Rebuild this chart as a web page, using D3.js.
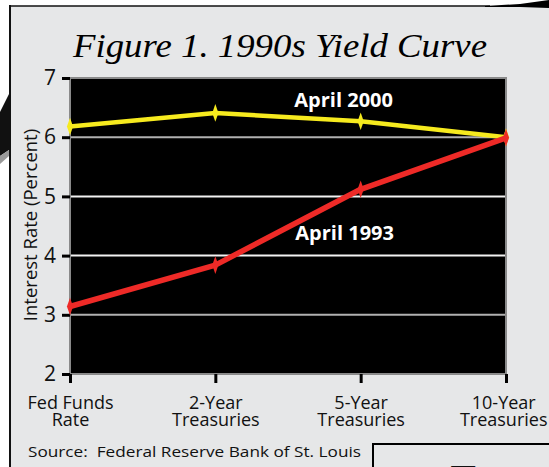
<!DOCTYPE html>
<html>
<head>
<meta charset="utf-8">
<script src="https://d3js.org/d3.v7.min.js"></script>
<style>
  body { margin: 0; background: #fff; }
  svg { display: block; }
</style>
</head>
<body>
<script>
// Yield curve data
const categories = ["Fed Funds Rate", "2-Year Treasuries", "5-Year Treasuries", "10-Year Treasuries"];
const april2000 = [6.18, 6.41, 6.27, 6.00];
const april1993 = [3.14, 3.84, 5.12, 5.99];
const yTicks = [2, 3, 4, 5, 6, 7];
const gridValues = [3, 4, 5, 6];
const seriesNames = ["April 2000", "April 1993"];

const W = 549, H = 467;
const margin = { top: 78, left: 70, right: 43, bottom: 93 };
const width = W - margin.left - margin.right;
const height = H - margin.top - margin.bottom;

const svg = d3.select("body").append("svg")
  .attr("width", W)
  .attr("height", H)
  .style("font-family", "'Open Sans', sans-serif");

// page background and frame
svg.append("rect")
  .attr("x", 10).attr("y", 6)
  .attr("width", W).attr("height", H)
  .attr("fill", "#e6e7e8");

svg.append("line")
  .attr("x1", 10).attr("y1", 5).attr("x2", 10).attr("y2", H)
  .attr("stroke", "#111").attr("stroke-width", 2);
svg.append("line")
  .attr("x1", 10).attr("y1", 6).attr("x2", 490).attr("y2", 6)
  .attr("stroke", "#111").attr("stroke-width", 1.5);

// page-curl shadows
svg.append("polygon")
  .attr("points", "485,6 520,4 549,0 549,8 520,7 485,7")
  .attr("fill", "#000");
svg.append("polygon")
  .attr("points", "0,112 9,94 9,150 0,156")
  .attr("fill", "#111");
svg.append("polygon")
  .attr("points", "0,156 9,150 9,156 0,164")
  .attr("fill", "#999");

// bottom-right box with partial letter
svg.append("rect")
  .attr("x", 373).attr("y", 444)
  .attr("width", 200).attr("height", 60)
  .attr("fill", "#e6e7e8")
  .attr("stroke", "#000")
  .attr("stroke-width", 2);
svg.append("text")
  .attr("x", 447).attr("y", 497)
  .attr("font-family", "'Liberation Serif', serif")
  .attr("font-style", "italic")
  .attr("font-size", 46)
  .attr("fill", "#111")
  .text("T");

// title
svg.append("text")
  .attr("x", 280).attr("y", 57)
  .attr("text-anchor", "middle")
  .attr("font-family", "'Liberation Serif', serif")
  .attr("font-style", "italic")
  .attr("font-size", 34)
  .attr("textLength", 414)
  .attr("lengthAdjust", "spacingAndGlyphs")
  .attr("fill", "#000")
  .text("Figure 1. 1990s Yield Curve");

const g = svg.append("g")
  .attr("transform", `translate(${margin.left},${margin.top})`);

// scales
const x = d3.scalePoint()
  .domain(categories)
  .range([0, width])
  .padding(0);

const y = d3.scaleLinear()
  .domain([2, 7])
  .range([height, 0]);

// plot area
g.append("rect")
  .attr("width", width)
  .attr("height", height)
  .attr("fill", "#000")
  .attr("stroke", "#8a8a8a")
  .attr("stroke-width", 2);

// gridlines
g.selectAll(".grid")
  .data(gridValues)
  .join("line")
  .attr("class", "grid")
  .attr("x1", 1).attr("x2", width - 1)
  .attr("y1", d => y(d)).attr("y2", d => y(d))
  .attr("stroke", d => (d === 6 || d === 3) ? "#b0b0b0" : "#f2f2f2")
  .attr("stroke-width", 2);

// y axis
const yAxis = g.append("g")
  .call(d3.axisLeft(y).tickValues(yTicks).tickFormat(d3.format("d")).tickSize(8).tickPadding(6));
yAxis.select(".domain").remove();
yAxis.selectAll(".tick line").attr("stroke", "#000").attr("stroke-width", 3);
yAxis.selectAll(".tick text")
  .attr("font-size", 21)
  .attr("font-family", "'Open Sans', sans-serif")
  .attr("fill", "#111");

// x axis
const xAxis = g.append("g")
  .attr("transform", `translate(0,${height})`)
  .call(d3.axisBottom(x).tickSize(9).tickFormat(""));
xAxis.select(".domain").remove();
xAxis.selectAll(".tick line").attr("stroke", "#000").attr("stroke-width", 3);

xAxis.selectAll(".tick").each(function(d) {
  const i = d.lastIndexOf(" ");
  const lines = [d.slice(0, i), d.slice(i + 1)];
  const t = d3.select(this).append("text")
    .attr("text-anchor", "middle")
    .attr("font-size", 18)
    .attr("font-family", "'Open Sans', sans-serif")
    .attr("fill", "#111");
  lines.forEach((s, k) => {
    t.append("tspan").attr("x", 0).attr("y", 35 + k * 17).text(s);
  });
  // keep the last label inside the page, like the original
  const edge = margin.left + x(d) + t.node().getBBox().width / 2;
  if (edge > W - 2) t.attr("transform", `translate(${W - 2 - edge},0)`);
});

// y axis title
svg.append("text")
  .attr("transform", "translate(37,225) rotate(-90)")
  .attr("text-anchor", "middle")
  .attr("font-size", 18.5)
  .attr("fill", "#111")
  .text("Interest Rate (Percent)");

// source
svg.append("text")
  .attr("x", 28).attr("y", 457)
  .attr("font-size", 14)
  .attr("textLength", 333)
  .attr("lengthAdjust", "spacingAndGlyphs")
  .attr("fill", "#111")
  .attr("xml:space", "preserve")
  .text("Source:  Federal Reserve Bank of St. Louis");

// lines
const line = d3.line()
  .x((d, i) => x(categories[i]))
  .y(d => y(d));

const series = [
  { name: seriesNames[0], values: april2000, color: "#f6ea1e", w: 4.5 },
  { name: seriesNames[1], values: april1993, color: "#ee2a27", w: 5.5 }
];

const diamond = d3.symbol().type(d3.symbolDiamond).size(40);

series.forEach(s => {
  g.append("path")
    .datum(s.values)
    .attr("fill", "none")
    .attr("stroke", s.color)
    .attr("stroke-width", s.w)
    .attr("stroke-linejoin", "round")
    .attr("d", line);

  g.selectAll(null)
    .data(s.values)
    .join("path")
    .attr("d", diamond)
    .attr("transform", (d, i) => `translate(${x(categories[i])},${y(d)}) scale(0.9,1.5)`)
    .attr("fill", s.color);
});

// series labels
g.append("text")
  .attr("x", x(categories[2]) - 17)
  .attr("y", y(6.51))
  .attr("text-anchor", "middle")
  .attr("font-size", 20)
  .attr("font-weight", "bold")
  .attr("fill", "#fff")
  .text(seriesNames[0]);

g.append("text")
  .attr("x", x(categories[2]) - 16)
  .attr("y", y(4.26))
  .attr("text-anchor", "middle")
  .attr("font-size", 20)
  .attr("font-weight", "bold")
  .attr("fill", "#fff")
  .text(seriesNames[1]);
</script>
</body>
</html>
